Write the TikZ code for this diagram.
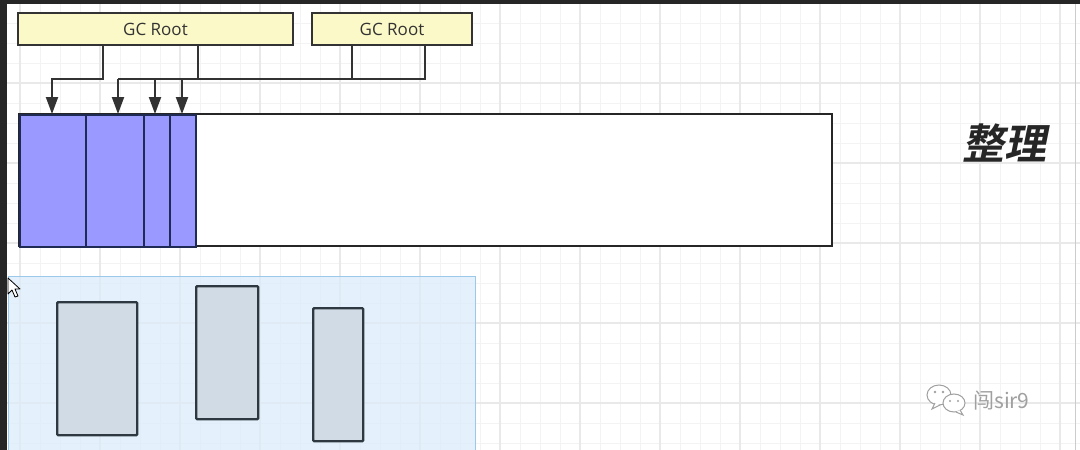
\documentclass[tikz,border=0pt]{standalone}
\usepackage{fontspec}
\setmainfont{Open Sans}
\newfontfamily\cjkbold[FakeSlant=0.2,BoldFont={Noto Sans CJK SC Bold}]{Noto Sans CJK SC}
\newfontfamily\cjk{Noto Sans CJK SC}
\usetikzlibrary{arrows.meta}
\definecolor{rootfill}{HTML}{FCF9C8}
\definecolor{linec}{HTML}{333333}
\definecolor{blockfill}{HTML}{9999FF}
\definecolor{blockline}{HTML}{1F2A55}
\definecolor{selfill}{HTML}{DCEBFA}
\definecolor{selline}{HTML}{9CC8EA}
\definecolor{objfill}{HTML}{D0DBE5}
\definecolor{objline}{HTML}{2E3840}
\definecolor{gridminor}{HTML}{F3F3F3}
\definecolor{gridmajor}{HTML}{E9E9E9}
\definecolor{wm}{HTML}{A0A0A0}
\tikzset{
  root/.style={draw=linec, line width=2pt, fill=rootfill, minimum height=32pt, inner sep=0pt, font=\fontsize{17}{17}\selectfont, text=linec},
  conn/.style={draw=linec, line width=2pt},
  arr/.style={conn, -{Triangle[length=17pt,width=12pt]}},
  heapbox/.style={draw=black!85, line width=2pt, fill=white, inner sep=0pt},
  blk/.style={draw=blockline, line width=2pt, fill=blockfill, inner sep=0pt, anchor=north west, minimum height=132pt},
  obj/.style={draw=objline, line width=2.4pt, fill=objfill, rounded corners=1pt},
}
\begin{document}
\begin{tikzpicture}[x=1pt,y=-1pt]
\useasboundingbox (0,0) rectangle (1080,450);
\fill[white] (0,0) rectangle (1080,450);
% grid
\foreach \x in {20,40,...,1060} {\draw[gridminor, line width=1pt] (\x,0) -- (\x,450);}
\foreach \y in {23,43,...,443} {\draw[gridminor, line width=1pt] (0,\y) -- (1080,\y);}
\foreach \x in {20,100,...,1060} {\draw[gridmajor, line width=1.2pt] (\x,0) -- (\x,450);}
\foreach \y in {3,83,...,443} {\draw[gridmajor, line width=1.2pt] (0,\y) -- (1080,\y);}
% frame strips
\fill[black!85] (0,0) rectangle (1080,4);
\fill[black!85] (0,0) rectangle (7,450);
\draw[black!20, line width=0.8pt] (1075,4) -- (1075,450);
% GC roots
\node[root, minimum width=275pt] (r1) at (155.5,29) {GC Root};
\node[root, minimum width=160pt] (r2) at (392,29) {GC Root};
% heap
\node[heapbox, minimum width=813pt, minimum height=132pt] (heap) at (425.5,180) {};
\node[blk, minimum width=66pt] (b1) at (19,114) {};
\node[blk, minimum width=58pt] (b2) at (85,114) {};
\node[blk, minimum width=26pt] (b3) at (143,114) {};
\node[blk, minimum width=26pt] (b4) at (169,114) {};
% connector helpers
\coordinate (x1) at (103,0);
\coordinate (x2) at (198,0);
\coordinate (x3) at (352,0);
\coordinate (x4) at (425,0);
\coordinate (a1) at (52,79);
\coordinate (a2) at (118,79);
\coordinate (a3) at (155,79);
\coordinate (a4) at (182,79);
\coordinate (hj) at (425,79);
\draw[arr] (r1.south -| x1) |- (a1) -- (a1 |- b1.north);
\draw[conn] (r1.south -| x2) -- (x2 |- a2);
\draw[conn] (r2.south -| x3) -- (x3 |- a2);
\draw[conn] (r2.south -| x4) -- (hj) -- (a2);
\draw[arr] (a2) -- (a2 |- b2.north);
\draw[arr] (a3) -- (a3 |- b3.north);
\draw[arr] (a4) -- (a4 |- b4.north);
% label
\node[font=\cjkbold\bfseries\fontsize{42}{42}\selectfont, text=black!85, anchor=center] (lbl) at (1004,143) {整理};
% selection area
\fill[selfill, opacity=0.75] (8,276) rectangle (475,455);
\draw[selline, line width=1pt] (8,455) -- (8,276) -- (475,276) -- (475,455);
\node[obj, minimum width=80pt, minimum height=133pt, anchor=north west, inner sep=0pt] (o1) at (56,301) {};
\node[obj, minimum width=62pt, minimum height=133pt, anchor=north west, inner sep=0pt] (o2) at (195,285) {};
\node[obj, minimum width=50pt, minimum height=133pt, anchor=north west, inner sep=0pt] (o3) at (312,307) {};
% cursor
\draw[black, fill=white, line width=0.8pt, line join=round] (8,278) -- (8,294) -- (12,290) -- (15,297) -- (18,296) -- (15,289) -- (20,289) -- cycle;
% watermark
\begin{scope}[wm, line width=1pt]
  \draw[fill=white] (939,395) ellipse (12pt and 10pt);
  \draw[fill=white] (935,403) -- (932,409) -- (940,405);
  \fill (935,392) circle (1.3pt) (943,392) circle (1.3pt);
  \draw[fill=white] (954,403) ellipse (11pt and 9pt);
  \draw[fill=white] (960,410) -- (963,415) -- (956,412);
  \fill (950,401) circle (1.2pt) (958,401) circle (1.2pt);
\end{scope}
\node[font=\cjk\fontsize{21}{21}\selectfont, text=wm, anchor=west, inner sep=0pt] (wmt) at (973,401) {闯sir9};
\end{tikzpicture}
\end{document}
